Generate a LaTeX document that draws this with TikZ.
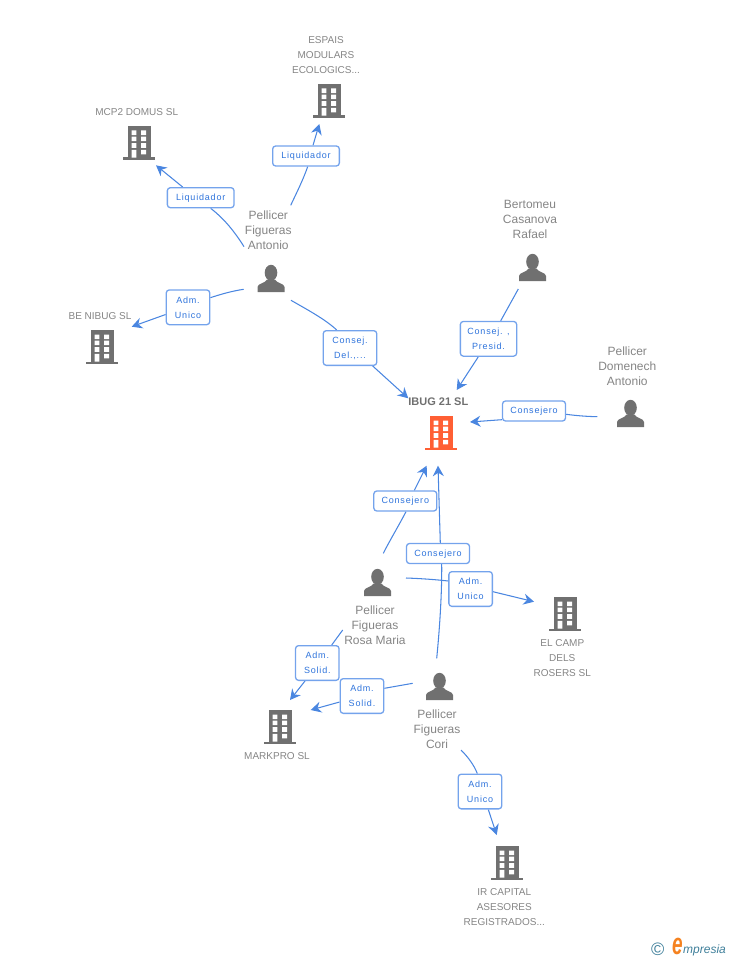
\documentclass[tikz,border=0pt]{standalone}
\usepackage{fontspec}
\setmainfont{Liberation Sans}
\newfontfamily\labfont[LetterSpace=9]{Liberation Sans}
\usetikzlibrary{arrows.meta}
\pgfdeclarelayer{back}
\pgfsetlayers{back,main}
\definecolor{linkc}{HTML}{4A86E0}
\definecolor{boxc}{HTML}{74A3EC}
\definecolor{labc}{HTML}{2F74DC}
\definecolor{namec}{HTML}{858585}
\definecolor{iconc}{HTML}{707070}
\definecolor{mainc}{HTML}{FF5F34}
\definecolor{tealc}{HTML}{3F7F9A}
\definecolor{orangec}{HTML}{F58220}
\tikzset{
  x=1pt,y=-1pt,
  rolebox/.style={draw=boxc,line width=1.3pt,rounded corners=3pt,fill=white,inner sep=0pt,
    align=center,text=labc,font=\labfont\fontsize{9}{15}\selectfont},
  wide/.style={rolebox,minimum width=63pt,minimum height=20pt,text height=7pt,text depth=2pt},
  tall/.style={rolebox,minimum width=43.5pt,minimum height=34.7pt},
  link/.style={draw=linkc,line width=1.05pt},
  tip/.style={link,-{Stealth[length=10.5pt,width=11pt,inset=3.5pt]}},
  cname/.style={inner sep=0pt,align=center,text=namec,font=\fontsize{10}{15}\selectfont},
  pname/.style={inner sep=0pt,align=center,text=namec,font=\fontsize{12}{15}\selectfont},
  iconbox/.style={inner sep=0pt,minimum width=27pt,minimum height=27pt},
}
\newcommand{\bldg}[4]{%
  \node[iconbox] (#1) at (#2,#3) {};
  \begin{scope}[shift={(#2,#3)}]
    \fill[#4] (-11,-17) rectangle (12,15);
    \fill[#4] (-16,14.5) rectangle (16,17);
    \fill[white] (-7.5,-12.5) rectangle (-2.7,-7.8) (2.2,-12.5) rectangle (7.2,-7.8)
      (-7.5,-6.3) rectangle (-2.7,-1.8) (2.2,-6.3) rectangle (7.2,-1.8)
      (-7.5,0.2) rectangle (-2.7,4.8) (2.2,0.2) rectangle (7.2,4.8)
      (-7.5,6.8) rectangle (-2.7,14.7) (2.2,6.8) rectangle (7.2,11.4);
  \end{scope}}
\newcommand{\persona}[3]{%
  \node[iconbox] (#1) at (#2,#3) {};
  \begin{scope}[shift={(#2,#3)}]
    \fill[iconc] (0,-5.7) ellipse [x radius=6.3,y radius=8];
    \fill[iconc] (-13.5,13.5) -- (-13.5,8.5) .. controls (-13.5,5) and (-6,5) .. (-4,1)
      -- (4,1) .. controls (6,5) and (13.5,5) .. (13.5,8.5) -- (13.5,13.5) -- cycle;
  \end{scope}}
\begin{document}
\begin{tikzpicture}
\useasboundingbox (0,0) rectangle (728,960);
% icons
\bldg{mcp}{139}{143}{iconc}
\bldg{espais}{329}{101}{iconc}
\bldg{benibug}{102}{347}{iconc}
\bldg{ibug}{441}{433}{mainc}
\bldg{camp}{565}{614}{iconc}
\bldg{markpro}{280}{727}{iconc}
\bldg{ircap}{507}{863}{iconc}
\persona{antonio}{271}{278.5}
\persona{bertomeu}{532.5}{267.5}
\persona{domenech}{630.5}{413.5}
\persona{rosa}{377.5}{582.5}
\persona{cori}{439.5}{686.5}
% names
\node[cname] (tespais) at (326,55) {ESPAIS\\MODULARS\\ECOLOGICS...};
\node[cname] (tmcp) at (136.7,112.3) {MCP2 DOMUS SL};
\node[cname] (tbe) at (100,316) {BE NIBUG SL};
\node[inner sep=0pt,text=iconc,font=\bfseries\fontsize{11}{15}\selectfont] (tibug) at (438.3,401.7) {IBUG 21 SL};
\node[cname] (tcamp) at (562.3,658) {EL CAMP\\DELS\\ROSERS SL};
\node[cname] (tmark) at (277,756) {MARKPRO SL};
\node[cname] (tir) at (504.3,907) {IR CAPITAL\\ASESORES\\REGISTRADOS...};
\node[pname] (tant) at (268.3,230) {Pellicer\\Figueras\\Antonio};
\node[pname] (tber) at (530,219.7) {Bertomeu\\Casanova\\Rafael};
\node[pname] (tdom) at (627.3,366) {Pellicer\\Domenech\\Antonio};
\node[pname] (tros) at (375,625) {Pellicer\\Figueras\\Rosa Maria};
\node[pname] (tcor) at (437,729) {Pellicer\\Figueras\\Cori};
% role labels
\node[wide,minimum width=66.7pt] (m1) at (200.7,197.7) {Liquidador};
\node[wide,minimum width=66.7pt] (m2) at (306,156) {Liquidador};
\node[tall] (m3) at (188,307.3) {Adm.\\Unico};
\node[tall,minimum width=53.5pt] (m4) at (350,348) {Consej.\\Del.,...};
\node[tall,minimum width=56.3pt] (m5) at (488.5,338.8) {Consej. ,\\Presid.};
\node[wide] (m6) at (534,411) {Consejero};
\node[wide] (m7) at (405.3,501) {Consejero};
\node[wide] (m8) at (438,553.5) {Consejero};
\node[tall] (m9) at (470.6,589) {Adm.\\Unico};
\node[tall] (m10) at (317.3,663) {Adm.\\Solid.};
\node[tall] (m11) at (362,696) {Adm.\\Solid.};
\node[tall] (m12) at (480,791.5) {Adm.\\Unico};
% free ends
\coordinate (s1) at (244,246.7);   \coordinate (e1) at (156,165.3);
\coordinate (s2) at (290.7,205.3); \coordinate (e2) at (319.3,124);
\coordinate (s3) at (243.7,289.3); \coordinate (e3) at (131.7,326.7);
\coordinate (s4) at (291,300.3);   \coordinate (e4) at (408.3,398.3);
\coordinate (s5) at (518.3,289);   \coordinate (e5) at (456.7,390);
\coordinate (s6) at (597.3,416.7); \coordinate (e6) at (470,422);
\coordinate (s7) at (383.3,553.3); \coordinate (e7) at (426.7,465.7);
\coordinate (s8) at (436.7,658.3); \coordinate (e8) at (438,465.7);
\coordinate (s9) at (406,578);     \coordinate (e9) at (534,601.7);
\coordinate (s10) at (342.7,630);  \coordinate (e10) at (290,700);
\coordinate (s11) at (412.7,683.3);\coordinate (e11) at (310.7,710);
\coordinate (s12) at (461,750);    \coordinate (e12) at (496.7,835);
% connectors
\begin{pgfonlayer}{back}
\draw[link] (s1) .. controls (233,229) and (222,217) .. ([xshift=10pt]m1.south);
\draw[tip] ([xshift=-18pt]m1.north) -- (e1);
\draw[link] (s2) .. controls (297,192) and (303,180) .. ([xshift=1.7pt]m2.south);
\draw[tip] ([xshift=7pt]m2.north) -- (e2);
\draw[link] (s3) .. controls (232,291) and (220,294.5) .. ([yshift=9.6pt]m3.east);
\draw[tip] ([yshift=-7.2pt]m3.west) -- (e3);
\draw[link] (s4) .. controls (306,309) and (325,319) .. ([xshift=-13.3pt]m4.north);
\draw[tip] ([xshift=22.7pt]m4.south) -- (e4);
\draw[link] (s5) -- ([xshift=12.2pt]m5.north);
\draw[tip] ([xshift=-10.2pt]m5.south) -- (e5);
\draw[link] (s6) .. controls (586,416.5) and (575,415.5) .. ([yshift=-3.3pt]m6.east);
\draw[tip] ([yshift=-8.7pt]m6.west) -- (e6);
\draw[link] (s7) .. controls (390,540) and (398,527) .. ([xshift=0.7pt]m7.south);
\draw[tip] ([xshift=9pt]m7.north) -- (e7);
\draw[link] (s8) .. controls (440,625) and (442,590) .. ([xshift=3.7pt]m8.south);
\draw[tip] ([xshift=2.3pt]m8.north) -- (e8);
\draw[link] (s9) .. controls (420,578.5) and (435,579.5) .. ([yshift=8pt]m9.west);
\draw[tip] ([yshift=-2.7pt]m9.east) -- (e9);
\draw[link] (s10) -- ([xshift=14.4pt]m10.north);
\draw[tip] ([xshift=-12.3pt]m10.south) -- (e10);
\draw[link] (s11) -- ([yshift=7.7pt]m11.east);
\draw[tip] ([yshift=-6pt]m11.west) -- (e11);
\draw[link] (s12) .. controls (468,757) and (474,765) .. ([xshift=-2.7pt]m12.north);
\draw[tip] ([xshift=8.3pt]m12.south) -- (e12);
\end{pgfonlayer}
% logo
\node[inner sep=0pt,text=tealc,font=\fontsize{18}{18}\selectfont] (lc) at (657.7,949) {©};
\node[inner sep=0pt,anchor=base west,text=orangec,font=\bfseries\itshape\fontsize{19}{19}\selectfont] (le) at (672,954) {\scalebox{1}[1.6]{e}};
\node[inner sep=0pt,anchor=base west,text=tealc,font=\itshape\fontsize{12}{12}\selectfont] (lm) at (683,953.5) {mpresia};
\end{tikzpicture}
\end{document}
